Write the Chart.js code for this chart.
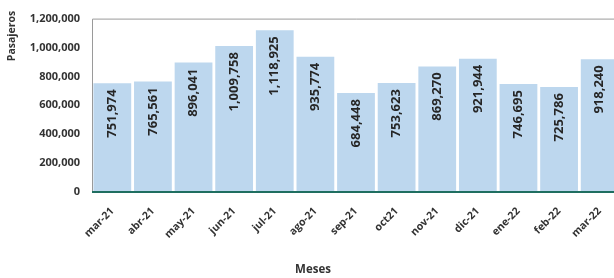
<!DOCTYPE html>
<html><head><meta charset="utf-8">
<script src="https://cdn.jsdelivr.net/npm/chart.js@4.4.1/dist/chart.umd.min.js"></script>
<style>
html,body{margin:0;padding:0;background:#fff;overflow:hidden;}
#wrap{position:absolute;left:0;top:0;width:626px;height:278px;}
</style></head>
<body>
<div id="wrap"><canvas id="c" width="626" height="278"></canvas></div>
<script>
const categories = ['mar-21','abr-21','may-21','jun-21','jul-21','ago-21','sep-21','oct21','nov-21','dic-21','ene-22','feb-22','mar-22'];
const pasajeros = [751974, 765561, 896041, 1009758, 1118925, 935774, 684448, 753623, 869270, 921944, 746695, 725786, 918240];
const yTicks = [0, 200000, 400000, 600000, 800000, 1000000, 1200000];
const yTitle = 'Pasajeros';
const xTitle = 'Meses';

const FONT = "'Open Sans', 'Noto Sans', sans-serif";
const fmt = v => v.toLocaleString('en-US');

const decor = {
  id: 'decor',
  beforeDatasetsDraw(chart) {
    const {ctx, chartArea: a} = chart;
    ctx.save();
    ctx.strokeStyle = '#9a9a9a';
    ctx.lineWidth = 1;
    ctx.beginPath();
    ctx.moveTo(a.left + 0.5, a.bottom);
    ctx.lineTo(a.left + 0.5, a.top + 0.5);
    ctx.lineTo(a.right, a.top + 0.5);
    ctx.stroke();
    ctx.restore();
  },
  afterDatasetsDraw(chart) {
    const {ctx, chartArea: a} = chart;
    const meta = chart.getDatasetMeta(0);
    ctx.save();
    // baseline
    ctx.strokeStyle = '#1f6e60';
    ctx.lineWidth = 2;
    ctx.beginPath();
    ctx.moveTo(a.left, a.bottom);
    ctx.lineTo(a.right, a.bottom);
    ctx.stroke();
    // value labels
    ctx.fillStyle = '#262626';
    ctx.font = "bold 13px " + FONT;
    ctx.textAlign = 'right';
    ctx.textBaseline = 'middle';
    meta.data.forEach((bar, i) => {
      ctx.save();
      ctx.translate(bar.x, bar.y + 6);
      ctx.rotate(-Math.PI / 2);
      ctx.fillText(fmt(pasajeros[i]), 0, 0);
      ctx.restore();
    });
    // titles
    ctx.fillStyle = '#333';
    ctx.font = "bold 10.5px " + FONT;
    ctx.textAlign = 'center';
    ctx.save();
    ctx.translate(12, 36);
    ctx.rotate(-Math.PI / 2);
    ctx.fillText(yTitle, 0, 0);
    ctx.restore();
    ctx.font = "bold 11.5px " + FONT;
    ctx.fillText(xTitle, 313, 270);
    ctx.restore();
  }
};

new Chart(document.getElementById('c'), {
  type: 'bar',
  data: {
    labels: categories,
    datasets: [{
      data: pasajeros,
      backgroundColor: '#BDD7EE',
      borderWidth: 0,
      barPercentage: 0.93,
      categoryPercentage: 1.0
    }]
  },
  options: {
    responsive: false,
    animation: false,
    devicePixelRatio: 1,
    layout: {padding: {top: 14, right: 6, left: 0, bottom: 0}},
    plugins: {legend: {display: false}, tooltip: {enabled: false}},
    scales: {
      x: {
        grid: {display: false, drawTicks: false},
        border: {display: false},
        ticks: {
          maxRotation: 45, minRotation: 45, padding: 13,
          color: '#333',
          font: {family: FONT, weight: 'bold', size: 10.5}
        },
        afterFit(s) { s.height = 86; }
      },
      y: {
        min: 0, max: 1200000,
        grid: {display: false, drawTicks: false},
        border: {display: false},
        afterBuildTicks(s) { s.ticks = yTicks.map(v => ({value: v})); },
        ticks: {
          padding: 12,
          color: '#333',
          font: {family: FONT, weight: 'bold', size: 11},
          callback: v => fmt(v)
        },
        afterFit(s) { s.width = 92; }
      }
    }
  },
  plugins: [decor]
});
</script>
</body></html>
